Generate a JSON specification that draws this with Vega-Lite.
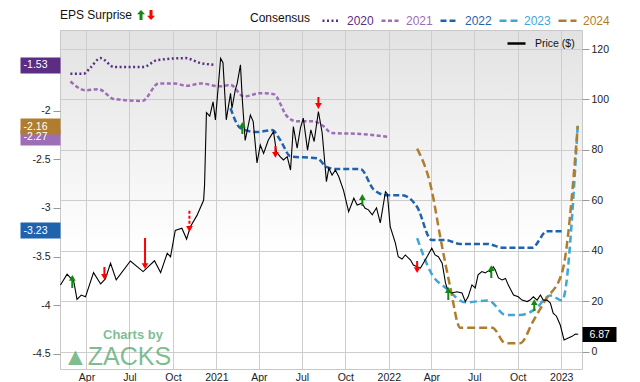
{
  "$schema": "https://vega.github.io/schema/vega-lite/v6.json",
  "width": 522,
  "height": 339,
  "autosize": {"type": "none"},
  "padding": {"left": 60, "top": 30, "right": 58, "bottom": 13},
  "background": "white",
  "view": {
    "stroke": "#c8c8c8",
    "fill": {"gradient": "linear", "x1": 0, "y1": 0, "x2": 0, "y2": 1, "stops": [{"offset": 0, "color": "#e2e2e2"}, {"offset": 0.65, "color": "#ffffff"}]}
  },
  "config": {
    "font": "Liberation Sans",
    "legend": {"padding": 0, "orient": "none"}
  },
  "title": {
    "text": "\u2800\u2800\u2800\u2800Charts by",
    "subtitle": "\u25b2ZACKS",
    "orient": "bottom",
    "anchor": "start",
    "frame": "group",
    "offset": -54,
    "dx": 3,
    "fontSize": 13,
    "fontWeight": 600,
    "color": "rgba(70,160,95,0.7)",
    "subtitleFontSize": 25,
    "subtitleFont": "Liberation Sans",
    "subtitleColor": "rgba(70,160,95,0.7)",
    "subtitlePadding": 3
  },
  "datasets": {
    "price": [
      {"date": "2020-02-06", "p": 26.4}, {"date": "2020-02-20", "p": 30.7}, {"date": "2020-03-02", "p": 28.4}, {"date": "2020-03-04", "p": 29.0},
      {"date": "2020-03-12", "p": 20.7}, {"date": "2020-03-21", "p": 22.4}, {"date": "2020-03-30", "p": 21.7}, {"date": "2020-04-16", "p": 31.3},
      {"date": "2020-05-01", "p": 26.8}, {"date": "2020-05-11", "p": 28.8}, {"date": "2020-05-22", "p": 35.0}, {"date": "2020-06-03", "p": 28.4},
      {"date": "2020-07-03", "p": 35.9}, {"date": "2020-07-30", "p": 31.7}, {"date": "2020-08-23", "p": 36.0}, {"date": "2020-09-05", "p": 31.3},
      {"date": "2020-09-19", "p": 39.0}, {"date": "2020-09-26", "p": 37.6}, {"date": "2020-10-06", "p": 48.0}, {"date": "2020-10-20", "p": 48.9},
      {"date": "2020-10-30", "p": 44.6}, {"date": "2020-11-07", "p": 49.5}, {"date": "2020-11-21", "p": 54.0}, {"date": "2020-12-05", "p": 60.0},
      {"date": "2020-12-07", "p": 66.0}, {"date": "2020-12-11", "p": 94.8}, {"date": "2020-12-18", "p": 93.4}, {"date": "2020-12-25", "p": 99.0},
      {"date": "2020-12-30", "p": 91.9}, {"date": "2021-01-10", "p": 116.3}, {"date": "2021-01-15", "p": 114.6}, {"date": "2021-01-22", "p": 91.9},
      {"date": "2021-01-31", "p": 102.4}, {"date": "2021-02-03", "p": 96.5}, {"date": "2021-02-10", "p": 103.8}, {"date": "2021-02-14", "p": 106.3},
      {"date": "2021-02-21", "p": 113.7}, {"date": "2021-02-25", "p": 99.8}, {"date": "2021-03-03", "p": 83.7}, {"date": "2021-03-14", "p": 93.8},
      {"date": "2021-03-20", "p": 91.2}, {"date": "2021-03-28", "p": 74.8}, {"date": "2021-04-04", "p": 81.9}, {"date": "2021-04-11", "p": 78.6},
      {"date": "2021-04-21", "p": 83.9}, {"date": "2021-05-02", "p": 87.2}, {"date": "2021-05-08", "p": 79.3}, {"date": "2021-05-16", "p": 77.3},
      {"date": "2021-05-23", "p": 76.0}, {"date": "2021-05-31", "p": 77.3}, {"date": "2021-06-07", "p": 72.0}, {"date": "2021-06-13", "p": 89.2},
      {"date": "2021-06-21", "p": 80.7}, {"date": "2021-06-28", "p": 88.7}, {"date": "2021-07-04", "p": 92.6}, {"date": "2021-07-13", "p": 79.9},
      {"date": "2021-07-20", "p": 87.9}, {"date": "2021-07-27", "p": 83.3}, {"date": "2021-08-05", "p": 95.2}, {"date": "2021-08-13", "p": 86.7},
      {"date": "2021-08-22", "p": 67.4}, {"date": "2021-08-27", "p": 72.7}, {"date": "2021-09-03", "p": 70.0}, {"date": "2021-09-10", "p": 72.0},
      {"date": "2021-09-17", "p": 69.4}, {"date": "2021-09-27", "p": 64.0}, {"date": "2021-10-08", "p": 55.5}, {"date": "2021-10-19", "p": 60.8},
      {"date": "2021-10-26", "p": 58.1}, {"date": "2021-11-05", "p": 58.8}, {"date": "2021-11-12", "p": 56.8}, {"date": "2021-11-19", "p": 56.2},
      {"date": "2021-11-27", "p": 54.2}, {"date": "2021-12-06", "p": 57.0}, {"date": "2021-12-14", "p": 51.0}, {"date": "2021-12-25", "p": 63.4},
      {"date": "2021-12-29", "p": 62.5}, {"date": "2022-01-04", "p": 49.5}, {"date": "2022-01-15", "p": 43.0}, {"date": "2022-01-21", "p": 37.6},
      {"date": "2022-01-29", "p": 36.7}, {"date": "2022-02-05", "p": 38.3}, {"date": "2022-02-16", "p": 36.3}, {"date": "2022-02-22", "p": 34.3},
      {"date": "2022-03-02", "p": 33.6}, {"date": "2022-03-09", "p": 33.1}, {"date": "2022-03-15", "p": 35.0}, {"date": "2022-03-23", "p": 37.6},
      {"date": "2022-04-02", "p": 41.0}, {"date": "2022-04-09", "p": 38.3}, {"date": "2022-04-16", "p": 37.6}, {"date": "2022-04-24", "p": 35.0},
      {"date": "2022-05-01", "p": 27.2}, {"date": "2022-05-07", "p": 23.7}, {"date": "2022-05-15", "p": 23.2}, {"date": "2022-05-25", "p": 23.7},
      {"date": "2022-06-05", "p": 23.2}, {"date": "2022-06-12", "p": 19.8}, {"date": "2022-06-18", "p": 21.7}, {"date": "2022-06-26", "p": 26.4},
      {"date": "2022-07-03", "p": 25.2}, {"date": "2022-07-09", "p": 30.4}, {"date": "2022-07-17", "p": 31.7}, {"date": "2022-07-24", "p": 31.2},
      {"date": "2022-07-31", "p": 32.0}, {"date": "2022-08-05", "p": 31.5}, {"date": "2022-08-10", "p": 33.6}, {"date": "2022-08-14", "p": 32.5},
      {"date": "2022-08-21", "p": 29.2}, {"date": "2022-08-29", "p": 28.4}, {"date": "2022-09-05", "p": 29.0}, {"date": "2022-09-11", "p": 26.4},
      {"date": "2022-09-22", "p": 22.4}, {"date": "2022-10-02", "p": 21.7}, {"date": "2022-10-10", "p": 20.4}, {"date": "2022-10-21", "p": 19.8},
      {"date": "2022-10-27", "p": 20.4}, {"date": "2022-11-03", "p": 21.7}, {"date": "2022-11-11", "p": 20.4}, {"date": "2022-11-18", "p": 22.4},
      {"date": "2022-11-24", "p": 20.4}, {"date": "2022-12-02", "p": 20.4}, {"date": "2022-12-09", "p": 19.2}, {"date": "2022-12-15", "p": 15.2},
      {"date": "2022-12-22", "p": 14.0}, {"date": "2022-12-30", "p": 10.5}, {"date": "2023-01-07", "p": 4.6}, {"date": "2023-01-16", "p": 5.4},
      {"date": "2023-01-24", "p": 6.0}, {"date": "2023-01-31", "p": 6.9}, {"date": "2023-02-06", "p": 6.87}
    ],
    "cons": [
      {"year": "2020", "date": "2020-02-27", "eps": -1.62}, {"year": "2020", "date": "2020-03-26", "eps": -1.62}, {"year": "2020", "date": "2020-04-09", "eps": -1.56},
      {"year": "2020", "date": "2020-05-01", "eps": -1.46}, {"year": "2020", "date": "2020-05-29", "eps": -1.55}, {"year": "2020", "date": "2020-07-31", "eps": -1.55},
      {"year": "2020", "date": "2020-08-29", "eps": -1.48}, {"year": "2020", "date": "2020-10-27", "eps": -1.46}, {"year": "2020", "date": "2020-11-28", "eps": -1.51},
      {"year": "2020", "date": "2020-12-30", "eps": -1.53},
      {"year": "2021", "date": "2020-02-27", "eps": -1.70}, {"year": "2021", "date": "2020-03-30", "eps": -1.79}, {"year": "2021", "date": "2020-04-27", "eps": -1.78},
      {"year": "2021", "date": "2020-05-29", "eps": -1.88}, {"year": "2021", "date": "2020-07-28", "eps": -1.90}, {"year": "2021", "date": "2020-09-01", "eps": -1.72},
      {"year": "2021", "date": "2020-10-03", "eps": -1.72}, {"year": "2021", "date": "2020-10-31", "eps": -1.745}, {"year": "2021", "date": "2020-11-28", "eps": -1.72},
      {"year": "2021", "date": "2021-01-10", "eps": -1.75}, {"year": "2021", "date": "2021-01-31", "eps": -1.735}, {"year": "2021", "date": "2021-02-28", "eps": -1.855},
      {"year": "2021", "date": "2021-04-04", "eps": -1.82}, {"year": "2021", "date": "2021-05-02", "eps": -1.83}, {"year": "2021", "date": "2021-05-31", "eps": -2.06},
      {"year": "2021", "date": "2021-06-21", "eps": -2.11}, {"year": "2021", "date": "2021-07-26", "eps": -2.11}, {"year": "2021", "date": "2021-08-13", "eps": -2.15},
      {"year": "2021", "date": "2021-09-03", "eps": -2.23}, {"year": "2021", "date": "2021-11-02", "eps": -2.24}, {"year": "2021", "date": "2022-01-01", "eps": -2.27},
      {"year": "2022", "date": "2021-01-31", "eps": -1.975}, {"year": "2022", "date": "2021-02-21", "eps": -2.18}, {"year": "2022", "date": "2021-03-28", "eps": -2.22},
      {"year": "2022", "date": "2021-04-29", "eps": -2.20}, {"year": "2022", "date": "2021-05-16", "eps": -2.30}, {"year": "2022", "date": "2021-06-07", "eps": -2.47},
      {"year": "2022", "date": "2021-08-02", "eps": -2.49}, {"year": "2022", "date": "2021-08-23", "eps": -2.58}, {"year": "2022", "date": "2021-09-13", "eps": -2.60},
      {"year": "2022", "date": "2021-11-02", "eps": -2.60}, {"year": "2022", "date": "2021-11-30", "eps": -2.81}, {"year": "2022", "date": "2021-12-28", "eps": -2.87},
      {"year": "2022", "date": "2022-01-29", "eps": -2.87}, {"year": "2022", "date": "2022-03-02", "eps": -2.99}, {"year": "2022", "date": "2022-04-02", "eps": -3.33},
      {"year": "2022", "date": "2022-05-01", "eps": -3.33}, {"year": "2022", "date": "2022-06-01", "eps": -3.37}, {"year": "2022", "date": "2022-07-28", "eps": -3.37},
      {"year": "2022", "date": "2022-09-01", "eps": -3.41}, {"year": "2022", "date": "2022-10-31", "eps": -3.41}, {"year": "2022", "date": "2022-12-02", "eps": -3.24},
      {"year": "2022", "date": "2023-01-03", "eps": -3.24},
      {"year": "2023", "date": "2022-03-02", "eps": -3.31}, {"year": "2023", "date": "2022-04-02", "eps": -3.68}, {"year": "2023", "date": "2022-05-04", "eps": -3.83},
      {"year": "2023", "date": "2022-06-12", "eps": -3.97}, {"year": "2023", "date": "2022-07-31", "eps": -3.95}, {"year": "2023", "date": "2022-09-05", "eps": -4.10},
      {"year": "2023", "date": "2022-10-06", "eps": -4.10}, {"year": "2023", "date": "2022-11-07", "eps": -4.04}, {"year": "2023", "date": "2022-12-09", "eps": -3.90},
      {"year": "2023", "date": "2023-01-03", "eps": -3.95}, {"year": "2023", "date": "2023-02-05", "eps": -2.15},
      {"year": "2024", "date": "2022-03-02", "eps": -2.39}, {"year": "2024", "date": "2022-04-02", "eps": -2.82}, {"year": "2024", "date": "2022-04-20", "eps": -3.30},
      {"year": "2024", "date": "2022-05-11", "eps": -3.81}, {"year": "2024", "date": "2022-06-01", "eps": -4.23}, {"year": "2024", "date": "2022-07-10", "eps": -4.23},
      {"year": "2024", "date": "2022-08-08", "eps": -4.23}, {"year": "2024", "date": "2022-09-05", "eps": -4.39}, {"year": "2024", "date": "2022-10-06", "eps": -4.39},
      {"year": "2024", "date": "2022-11-03", "eps": -4.16}, {"year": "2024", "date": "2022-11-28", "eps": -3.95}, {"year": "2024", "date": "2023-01-03", "eps": -3.66},
      {"year": "2024", "date": "2023-02-05", "eps": -2.16}
    ],
    "surp": [
      {"date": "2020-03-02", "dir": "up", "tail": 25.2, "tip": 29.2, "style": "solid"},
      {"date": "2020-05-09", "dir": "down", "tail": 33.5, "tip": 29.6, "style": "solid"},
      {"date": "2020-08-03", "dir": "down", "tail": 45.0, "tip": 33.9, "style": "solid"},
      {"date": "2020-11-05", "dir": "down", "tail": 55.8, "tip": 48.6, "style": "dashed"},
      {"date": "2021-02-25", "dir": "up", "tail": 86.3, "tip": 89.9, "style": "solid"},
      {"date": "2021-05-06", "dir": "down", "tail": 81.5, "tip": 78.0, "style": "solid"},
      {"date": "2021-08-05", "dir": "down", "tail": 101.0, "tip": 97.4, "style": "solid"},
      {"date": "2021-11-06", "dir": "up", "tail": 57.7, "tip": 61.3, "style": "solid"},
      {"date": "2022-03-02", "dir": "down", "tail": 35.9, "tip": 32.3, "style": "solid"},
      {"date": "2022-05-07", "dir": "up", "tail": 20.4, "tip": 24.4, "style": "solid"},
      {"date": "2022-08-06", "dir": "up", "tail": 29.2, "tip": 33.1, "style": "solid"},
      {"date": "2022-11-05", "dir": "up", "tail": 16.1, "tip": 19.6, "style": "solid"}
    ]
  },
  "layer": [
    {
      "data": {"name": "cons"},
      "mark": {"type": "line", "strokeWidth": 2.5, "interpolate": "monotone"},
      "encoding": {
        "x": {
          "field": "date", "type": "temporal",
          "scale": {"domain": ["2020-02-05", "2023-02-14"]},
          "axis": {
            "title": null, "grid": true, "gridColor": "#cdcdcd", "ticks": false, "domain": false,
            "labelPadding": 3, "labelFontSize": 10.5, "labelColor": "#222222", "labelFlush": false,
            "tickCount": {"interval": "month", "step": 3},
            "labelExpr": "month(datum.value) == 0 ? timeFormat(datum.value, '%Y') : timeFormat(datum.value, '%b')"
          }
        },
        "y": {
          "field": "eps", "type": "quantitative",
          "scale": {"domain": [-4.655, -1.171], "nice": false, "zero": false},
          "axis": {
            "orient": "left", "title": null, "grid": false, "domain": false,
            "values": [-4.5, -4, -3.5, -3, -2.5, -2, -3.23, -1.53, -2.27, -2.16],
            "format": ".2~f",
            "labelExpr": "replace(datum.label, '\u2212', '-')",
            "labelOverlap": false, "labelBound": false, "labelFlush": false,
            "labelFontSize": 10.5,
            "tickSize": {"condition": {"test": "datum.value * 2 != round(datum.value * 2)", "value": 40}, "value": 7},
            "tickWidth": {"condition": {"test": "datum.value * 2 != round(datum.value * 2)", "value": 16}, "value": 1},
            "labelPadding": {"condition": {"test": "datum.value * 2 != round(datum.value * 2)", "value": -27}, "value": 3},
            "labelColor": {"condition": {"test": "datum.value * 2 != round(datum.value * 2)", "value": "#ffffff"}, "value": "#222222"},
            "tickColor": {"condition": [
              {"test": "datum.value == -1.53", "value": "#5c2d84"},
              {"test": "datum.value == -2.16", "value": "#b07d2e"},
              {"test": "datum.value == -2.27", "value": "#9d6db5"},
              {"test": "datum.value == -3.23", "value": "#1f63ae"}
            ], "value": "#999999"}
          }
        },
        "color": {
          "field": "year", "type": "nominal",
          "scale": {"domain": ["2020", "2021", "2022", "2023", "2024"], "range": ["#5c2d84", "#9d6db5", "#1f63ae", "#3fa6d6", "#b07d2e"]},
          "legend": {
            "title": "Consensus", "orient": "none", "legendX": 190, "legendY": -20,
            "direction": "horizontal", "titleOrient": "left", "titlePadding": 10,
            "titleFontSize": 12, "titleFontWeight": "normal", "titleColor": "#111111",
            "labelFontSize": 12, "labelOffset": 5, "columnPadding": 2,
            "symbolType": "stroke", "symbolSize": 324, "symbolStrokeWidth": 2.5,
            "encode": {"labels": {"update": {"fill": {"scale": "color", "field": "value"}}}}
          }
        },
        "strokeDash": {
          "field": "year", "type": "nominal",
          "scale": {"domain": ["2020", "2021", "2022", "2023", "2024"], "range": [[2, 2.5], [4, 2.5], [6, 3], [7, 4], [8, 4]]}
        }
      }
    },
    {
      "layer": [
        {
          "data": {"name": "price"},
          "mark": {"type": "line", "strokeWidth": 1.1, "color": "#000000"},
          "encoding": {
            "x": {"field": "date", "type": "temporal"},
            "y": {
              "field": "p", "type": "quantitative",
              "scale": {"domain": [-6.94, 127.54], "nice": false, "zero": false},
              "axis": {
                "orient": "right", "title": null, "domain": false,
                "grid": true, "gridColor": "#cdcdcd",
                "values": [0, 20, 40, 60, 80, 100, 120, 6.87],
                "format": ".2~f",
                "labelOverlap": false, "labelBound": false, "labelFlush": false,
                "labelFontSize": 10.5,
                "tickSize": {"condition": {"test": "datum.value % 20 != 0", "value": 34}, "value": 7},
                "tickWidth": {"condition": {"test": "datum.value % 20 != 0", "value": 15}, "value": 1},
                "labelPadding": {"condition": {"test": "datum.value % 20 != 0", "value": -27}, "value": 2},
                "labelColor": {"condition": {"test": "datum.value % 20 != 0", "value": "#ffffff"}, "value": "#222222"},
                "tickColor": {"condition": {"test": "datum.value % 20 != 0", "value": "#000000"}, "value": "#999999"},
                "gridOpacity": {"condition": {"test": "datum.value % 20 != 0", "value": 0}, "value": 1}
              }
            },
            "opacity": {
              "datum": "Price ($)",
              "scale": {"range": [1]},
              "legend": {
                "title": null, "orient": "none", "legendX": 446, "legendY": 3,
                "symbolType": "stroke", "symbolSize": 324, "symbolStrokeWidth": 2.5,
                "labelFontSize": 10.5, "labelOffset": 8, "labelColor": "#111111",
                "encode": {"symbols": {"update": {"stroke": {"value": "#666666"}}}}
              }
            }
          }
        },
        {
          "data": {"name": "surp"},
          "mark": {"type": "rule", "strokeWidth": 2},
          "encoding": {
            "x": {"field": "date", "type": "temporal"},
            "y": {"field": "tail", "type": "quantitative", "scale": {"domain": [-6.94, 127.54], "nice": false, "zero": false}},
            "y2": {"field": "tip"},
            "stroke": {
              "field": "dir", "type": "nominal",
              "scale": {"domain": ["up", "down"], "range": ["#118811", "#ff0000"]},
              "legend": {
                "title": "EPS Surprise", "orient": "none", "legendX": 0, "legendY": -20,
                "direction": "horizontal", "titleOrient": "left", "titlePadding": 3,
                "titleFontSize": 12, "titleFontWeight": "normal", "titleColor": "#111111",
                "labelExpr": "''", "labelOffset": 0, "columnPadding": -2, "symbolSize": 100,
                "encode": {"symbols": {"update": {
                  "shape": {"signal": "datum.value == 'up' ? 'M0,-1L0.8,-0.15L0.3,-0.15L0.3,1L-0.3,1L-0.3,-0.15L-0.8,-0.15Z' : 'M0,1L0.8,0.15L0.3,0.15L0.3,-1L-0.3,-1L-0.3,0.15L-0.8,0.15Z'"},
                  "fill": {"signal": "datum.value == 'up' ? '#118811' : '#ff0000'"},
                  "strokeWidth": {"value": 0}
                }}}
              }
            },
            "strokeDash": {"condition": {"test": "datum.style == 'dashed'", "value": [3, 2]}, "value": [1, 0]}
          }
        },
        {
          "data": {"name": "surp"},
          "mark": {"type": "point", "filled": true, "size": 45, "opacity": 1, "strokeWidth": 0},
          "encoding": {
            "x": {"field": "date", "type": "temporal"},
            "y": {"field": "tip", "type": "quantitative", "scale": {"domain": [-6.94, 127.54], "nice": false, "zero": false}},
            "shape": {"condition": {"test": "datum.dir == 'up'", "value": "triangle-up"}, "value": "triangle-down"},
            "fill": {"condition": {"test": "datum.dir == 'up'", "value": "#118811"}, "value": "#ff0000"}
          }
        }
      ]
    }
  ],
  "resolve": {"scale": {"y": "independent"}}
}
